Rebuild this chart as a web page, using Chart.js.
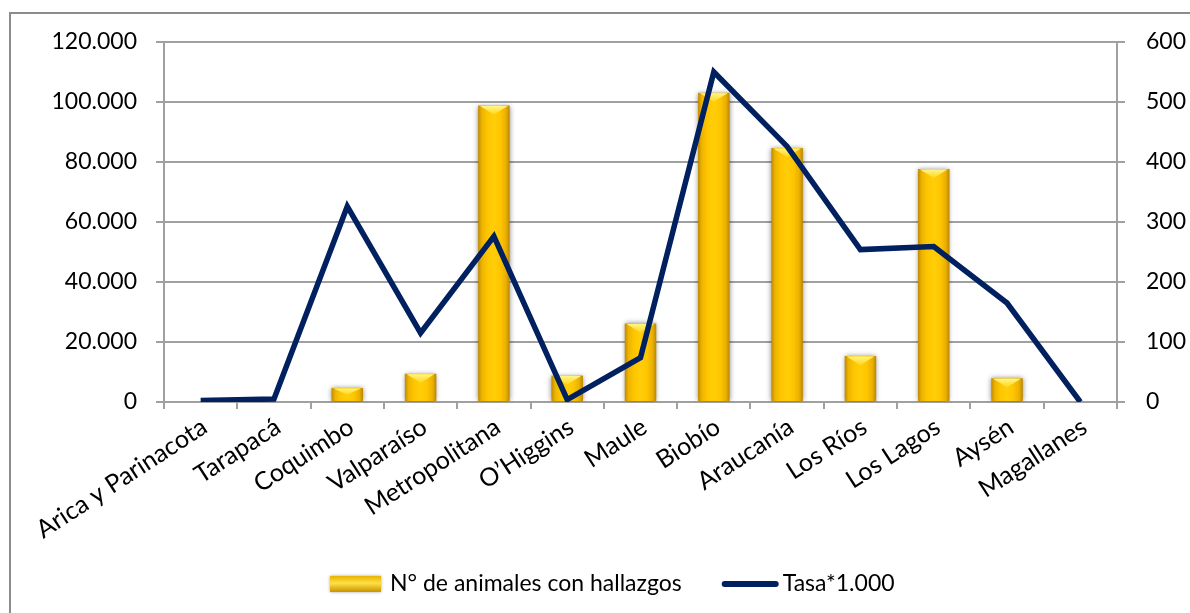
<!DOCTYPE html>
<html>
<head>
<meta charset="utf-8">
<script src="https://cdn.jsdelivr.net/npm/chart.js@4.4.1/dist/chart.umd.min.js"></script>
<style>
  html, body { margin: 0; padding: 0; background: #fff; overflow: hidden; }
  #frame { position: absolute; left: 9px; top: 12px; width: 1400px; height: 800px; border: 2px solid #8c8c8c; }
  #c { position: absolute; left: 0; top: 0; }
</style>
</head>
<body>
<div id="frame"></div>
<canvas id="c" width="1190" height="613"></canvas>
<script>
const regiones = ['Arica y Parinacota', 'Tarapacá', 'Coquimbo', 'Valparaíso', 'Metropolitana', 'O’Higgins',
  'Maule', 'Biobío', 'Araucanía', 'Los Ríos', 'Los Lagos', 'Aysén', 'Magallanes'];
const animales = [0, 0, 4700, 9400, 98800, 8800, 26200, 103100, 84700, 15300, 77700, 7900, 0];
const tasa = [2.5, 5, 326, 115, 276, 4, 74, 550, 426, 254, 259, 165, 0];
const ticksIzq = ['0', '20.000', '40.000', '60.000', '80.000', '100.000', '120.000'];
const ticksDer = ['0', '100', '200', '300', '400', '500', '600'];

const FONT = 'Lato';
const BAR_PCT = 0.43;
const GRIS = '#a0a0a0';

// gradient across each bar (dark gold edges, bright centre)
function barFill(ctx) {
  const chart = ctx.chart;
  if (ctx.type !== 'data' || !chart.chartArea) return '#FFC800';
  const xs = chart.scales.x;
  const cx = xs.getPixelForValue(ctx.dataIndex);
  const w = xs.width / regiones.length * BAR_PCT;
  const g = chart.ctx.createLinearGradient(cx - w / 2, 0, cx + w / 2, 0);
  g.addColorStop(0, '#C08A00');
  g.addColorStop(0.12, '#EDB400');
  g.addColorStop(0.3, '#FFC600');
  g.addColorStop(0.5, '#FFCE08');
  g.addColorStop(0.7, '#FFC600');
  g.addColorStop(0.88, '#EAB000');
  g.addColorStop(1, '#BC8600');
  return g;
}

const barDeco = {
  id: 'barDeco',
  beforeDatasetDraw(chart, args) {
    if (args.index !== 0) return;
    const c = chart.ctx;
    c.save();
    c.shadowColor = 'rgba(0,0,0,0.45)';
    c.shadowBlur = 5;
  },
  afterDatasetDraw(chart, args) {
    if (args.index !== 0) return;
    const c = chart.ctx;
    c.restore();
    args.meta.data.forEach(bar => {
      const { x, y, base, width } = bar.getProps(['x', 'y', 'base', 'width'], true);
      const h = base - y;
      if (h < 2) return;
      const cap = Math.min(9, h * 0.5);
      const g = c.createLinearGradient(0, y, 0, y + cap);
      g.addColorStop(0, '#FFF78C');
      g.addColorStop(1, '#FFD81E');
      c.beginPath();
      c.moveTo(x - width / 2 + 2, y + 0.5);
      c.lineTo(x + width / 2 - 2, y + 0.5);
      c.lineTo(x, y + cap);
      c.closePath();
      c.fillStyle = g;
      c.fill();
    });
  }
};

const leyenda = {
  id: 'leyenda',
  afterDraw(chart) {
    const c = chart.ctx;
    const ds = chart.data.datasets;
    c.save();
    c.font = '23px ' + FONT;
    c.textBaseline = 'middle';
    c.fillStyle = '#000';
    const y = 584;
    let x = 330;
    // bar swatch
    const g = c.createLinearGradient(0, y - 8, 0, y + 8);
    g.addColorStop(0, '#E9B200');
    g.addColorStop(0.45, '#FFE045');
    g.addColorStop(1, '#C99300');
    c.shadowColor = 'rgba(0,0,0,0.35)';
    c.shadowBlur = 3;
    c.fillStyle = g;
    c.fillRect(x, y - 8, 51, 16);
    c.shadowBlur = 0;
    c.fillStyle = '#000';
    x += 60;
    c.fillText(ds[0].label, x, y);
    x += c.measureText(ds[0].label).width + 40;
    // line swatch
    c.strokeStyle = '#002060';
    c.lineWidth = 6;
    c.lineCap = 'round';
    c.beginPath();
    c.moveTo(x + 3, y);
    c.lineTo(x + 54, y);
    c.stroke();
    x += 61;
    c.fillText(ds[1].label, x, y);
    c.restore();
  }
};

new Chart(document.getElementById('c'), {
  data: {
    labels: regiones,
    datasets: [
      {
        type: 'bar',
        label: 'N° de animales con hallazgos',
        data: animales,
        yAxisID: 'y',
        backgroundColor: barFill,
        barPercentage: BAR_PCT,
        categoryPercentage: 1,
        order: 1
      },
      {
        type: 'line',
        label: 'Tasa*1.000',
        data: tasa,
        yAxisID: 'y1',
        borderColor: '#002060',
        borderWidth: 5.5,
        borderJoinStyle: 'miter',
        pointRadius: 0,
        tension: 0,
        order: 0
      }
    ]
  },
  options: {
    responsive: false,
    animation: false,
    layout: { padding: { top: 42, left: 0, right: 0, bottom: 0 } },
    plugins: { legend: { display: false }, tooltip: { enabled: false } },
    scales: {
      x: {
        offset: true,
        grid: { offset: true, drawOnChartArea: false, drawTicks: true, tickLength: 7, color: GRIS, lineWidth: 2 },
        border: { color: GRIS, width: 2 },
        ticks: {
          color: '#000', font: { family: FONT, size: 25 },
          minRotation: 33, maxRotation: 33, padding: 3, labelOffset: 4, autoSkip: false
        },
        afterFit(s) { s.height = 211; }
      },
      y: {
        position: 'left',
        min: 0, max: 120000,
        grid: { color: GRIS, lineWidth: 2, tickLength: 8 },
        border: { color: GRIS, width: 2 },
        ticks: {
          stepSize: 20000, color: '#000', font: { family: FONT, size: 23 }, padding: 19,
          callback: (v, i) => ticksIzq[i]
        },
        afterFit(s) { s.width = 164; }
      },
      y1: {
        position: 'right',
        min: 0, max: 600,
        grid: { drawOnChartArea: false, color: GRIS, lineWidth: 2, tickLength: 8 },
        border: { color: GRIS, width: 2 },
        ticks: {
          stepSize: 100, color: '#000', font: { family: FONT, size: 23 }, padding: 21,
          callback: (v, i) => ticksDer[i]
        },
        afterFit(s) { s.width = 73; }
      }
    }
  },
  plugins: [barDeco, leyenda]
});
</script>
</body>
</html>
